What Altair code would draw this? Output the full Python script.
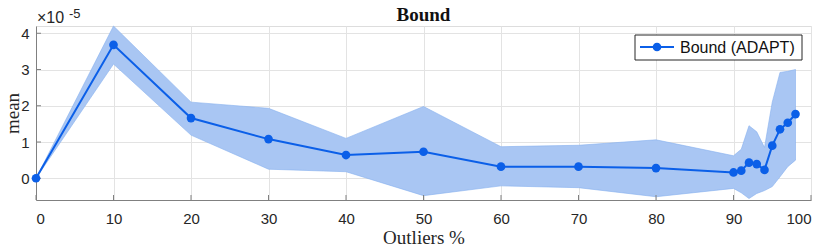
import altair as alt
import pandas as pd

# ---- data (mean values in units of 1e-5) ----
outliers = [0, 10, 20, 30, 40, 50, 60, 70, 80, 90, 91, 92, 93, 94, 95, 96, 97, 98]
mean_e5 = [0.0, 3.68, 1.66, 1.08, 0.64, 0.73, 0.32, 0.32, 0.28, 0.16, 0.21, 0.43, 0.39, 0.23, 0.90, 1.35, 1.53, 1.77]
upper_e5 = [0.0, 4.20, 2.10, 1.93, 1.10, 1.98, 0.87, 0.91, 1.06, 0.62, 0.80, 1.45, 1.28, 0.85, 2.10, 2.92, 2.95, 3.00]
lower_e5 = [0.0, 3.15, 1.19, 0.25, 0.18, -0.48, -0.21, -0.26, -0.51, -0.28, -0.40, -0.56, -0.42, -0.34, -0.23, 0.04, 0.32, 0.50]
series_name = "Bound (ADAPT)"
chart_title = "Bound"
x_ticks = [0, 10, 20, 30, 40, 50, 60, 70, 80, 90, 100]
y_ticks = [0, 1, 2, 3, 4]

W, H = 775, 174
LINE = "#0b5fe8"
BAND = "#a9c6f3"
AXIS = "#808080"
GRID = "#e3e3e3"

df = pd.DataFrame({"x": outliers, "m": mean_e5, "lo": lower_e5, "hi": upper_e5})

xscale = alt.Scale(domain=[0, 100], nice=False, zero=False)
yscale = alt.Scale(domain=[-0.6, 4.2], nice=False, zero=False)

xaxis = alt.Axis(values=x_ticks, title="Outliers %", labelFont="Liberation Sans", labelFontSize=15,
                 labelColor="#262626", labelPadding=11, tickSize=0, domainColor=AXIS, gridColor=GRID,
                 titleFont="Liberation Serif", titleFontSize=19, titleFontWeight="normal",
                 titleColor="#262626", titlePadding=2)
yaxis = alt.Axis(values=y_ticks, title="mean", labelFont="Liberation Sans", labelFontSize=15,
                 labelColor="#262626", labelPadding=7, tickSize=0, domainColor=AXIS, gridColor=GRID,
                 titleFont="Liberation Serif", titleFontSize=19, titleFontWeight="normal",
                 titleColor="#262626", titleX=-18, titleBaseline="alphabetic")

base = alt.Chart(df)

band = base.mark_area(color=BAND, opacity=1, stroke="#86b0ef", strokeWidth=0.6).encode(
    x=alt.X("x:Q", scale=xscale, axis=xaxis),
    y=alt.Y("lo:Q", scale=yscale, axis=yaxis),
    y2="hi:Q",
)

line = base.mark_line(strokeWidth=2, color=LINE).encode(x="x:Q", y="m:Q")
pts = base.mark_circle(size=75, opacity=1, color=LINE).encode(x="x:Q", y="m:Q")

xt = alt.Chart(pd.DataFrame({"t": x_ticks})).mark_rule(color=AXIS, strokeWidth=1).encode(
    x="t:Q", y=alt.value(H), y2=alt.value(H - 5))
yt = alt.Chart(pd.DataFrame({"t": y_ticks})).mark_rule(color=AXIS, strokeWidth=1).encode(
    y="t:Q", x=alt.value(0), x2=alt.value(5))

exp_main = alt.Chart(pd.DataFrame({"t": ["×10"]})).mark_text(
    font="Liberation Sans", fontSize=16, align="left", baseline="alphabetic", color="#262626").encode(
    text="t:N", x=alt.value(1), y=alt.value(-3))
exp_sup = alt.Chart(pd.DataFrame({"t": ["-5"]})).mark_text(
    font="Liberation Sans", fontSize=13, align="left", baseline="alphabetic", color="#262626").encode(
    text="t:N", x=alt.value(33), y=alt.value(-8))

title = alt.Chart(pd.DataFrame({"t": [chart_title]})).mark_text(
    font="Liberation Serif", fontSize=19, fontWeight="bold", align="center",
    baseline="alphabetic", color="#111111").encode(
    text="t:N", x=alt.value(W / 2), y=alt.value(-5))

# legend (drawn as marks, top-right inside the plot)
leg = pd.DataFrame({"label": [series_name]})
leg_box = alt.Chart(leg).mark_rect(fill="white", stroke="#262626", strokeWidth=1).encode(
    x=alt.value(599), x2=alt.value(766), y=alt.value(9), y2=alt.value(34))
leg_line = alt.Chart(leg).mark_rule(color=LINE, strokeWidth=2).encode(
    x=alt.value(604), x2=alt.value(638), y=alt.value(21))
leg_pt = alt.Chart(leg).mark_circle(size=75, opacity=1, color=LINE).encode(
    x=alt.value(621), y=alt.value(21))
leg_txt = alt.Chart(leg).mark_text(font="Liberation Sans", fontSize=16, align="left",
                                   baseline="middle", color="#111111").encode(
    text="label:N", x=alt.value(644), y=alt.value(22))

chart = alt.layer(band, xt, yt, line, pts, exp_main, exp_sup, title,
                  leg_box, leg_line, leg_pt, leg_txt).properties(
    width=W, height=H,
    autosize=alt.AutoSizeParams(type="none"),
    padding={"left": 28, "top": 18, "right": 10, "bottom": 49},
).configure_view(stroke=None).configure(background="white")

chart.save("out.html", embed_options={"renderer": "svg", "actions": False})
